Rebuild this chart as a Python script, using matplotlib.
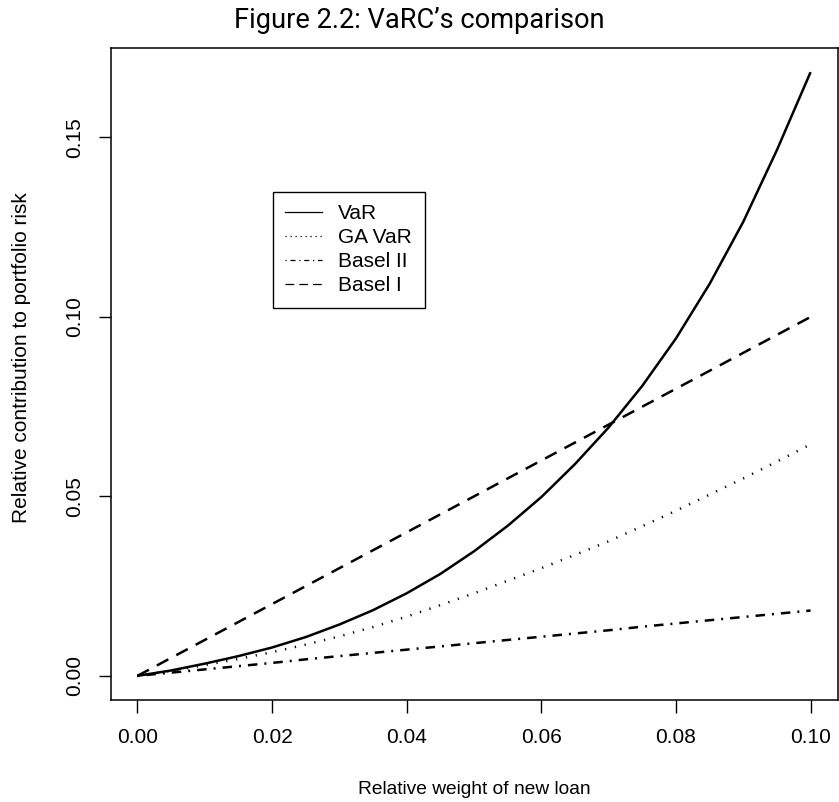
import matplotlib
matplotlib.use("Agg")
import matplotlib.pyplot as plt
from matplotlib.lines import Line2D

# ---- data ----
weights = [0.000, 0.005, 0.010, 0.015, 0.020, 0.025, 0.030, 0.035, 0.040, 0.045, 0.050,
           0.055, 0.060, 0.065, 0.070, 0.075, 0.080, 0.085, 0.090, 0.095, 0.100]
var_rc = [0.0, 0.0015, 0.0034, 0.0055, 0.0079, 0.0108, 0.0143, 0.0183, 0.0230, 0.0284, 0.0347,
          0.0418, 0.0498, 0.0590, 0.0692, 0.0808, 0.0940, 0.1092, 0.1265, 0.1465, 0.1682]
ga_var = [0.0, 0.0014, 0.0030, 0.0047, 0.0066, 0.0087, 0.0110, 0.0136, 0.0165, 0.0197, 0.0230,
          0.0265, 0.0300, 0.0337, 0.0375, 0.0417, 0.0460, 0.0505, 0.0550, 0.0597, 0.0645]
basel2 = [0.0, 0.0009, 0.0018, 0.0027, 0.0036, 0.0046, 0.0055, 0.0064, 0.0073, 0.0082, 0.0091,
          0.0100, 0.0109, 0.0118, 0.0127, 0.0137, 0.0146, 0.0155, 0.0164, 0.0173, 0.0182]
basel1 = [0.0, 0.005, 0.010, 0.015, 0.020, 0.025, 0.030, 0.035, 0.040, 0.045, 0.050,
          0.055, 0.060, 0.065, 0.070, 0.075, 0.080, 0.085, 0.090, 0.095, 0.100]
labels = ["VaR", "GA VaR", "Basel II", "Basel I"]
xticks = [0.00, 0.02, 0.04, 0.06, 0.08, 0.10]
yticks = [0.00, 0.05, 0.10, 0.15]
title = "Figure 2.2: VaRC\u2019s comparison"
xlabel = "Relative weight of new loan"
ylabel = "Relative contribution to portfolio risk"

W, H = 839, 802
fig = plt.figure(figsize=(W / 100, H / 100), dpi=100)
ax = fig.add_axes([110.5 / W, 1 - 700 / H, (837.5 - 110.5) / W, (700 - 48) / H])

FONT = ["Liberation Sans", "DejaVu Sans"]
lw = 1.8
ax.plot(weights, var_rc, color="black", lw=lw, solid_capstyle="butt")
ax.plot(weights, ga_var, color="black", lw=lw, linestyle=(0, (0.5, 3.5)))
ax.plot(weights, basel2, color="black", lw=lw, linestyle=(0, (0.8, 2.8, 3.8, 2.8)))
ax.plot(weights, basel1, color="black", lw=lw, linestyle=(0, (5.2, 3.6)))

ymax = max(var_rc)
ax.set_xlim(-0.004, 0.104)
ax.set_ylim(-0.04 * ymax, ymax * 1.04)
ax.set_xticks(xticks)
ax.set_xticklabels([f"{v:.2f}" for v in xticks], fontsize=15, family=FONT)
ax.set_yticks(yticks)
ax.set_yticklabels([f"{v:.2f}" for v in yticks], fontsize=15, family=FONT,
                   rotation=90, va="center")
ax.tick_params(direction="out", length=9, width=1, color="black")
ax.tick_params(axis="x", pad=11.5)
ax.tick_params(axis="y", pad=9.7)
for s in ax.spines.values():
    s.set_linewidth(1.1)

fig.text(474 / W, 1 - 790 / H, xlabel, ha="center", va="center", fontsize=13.8, family=FONT)
fig.text(22 / W, 1 - 358 / H, ylabel, ha="center", va="center", rotation=90,
         fontsize=15, family=FONT)
fig.text(419 / W, 1 - 20 / H, title, ha="center", va="center", fontsize=19.6,
         family=["Roboto", "DejaVu Sans"])

handles = [
    Line2D([], [], color="black", lw=0.9),
    Line2D([], [], color="black", lw=0.9, linestyle=(0, (1, 3))),
    Line2D([], [], color="black", lw=0.9, linestyle=(0, (1, 3, 4, 3))),
    Line2D([], [], color="black", lw=0.9, linestyle=(0, (7, 4))),
]
leg = ax.legend(handles, labels, loc="upper left",
                bbox_to_anchor=(272.7 / W, 1 - 191.7 / H), bbox_transform=fig.transFigure,
                borderaxespad=0, fancybox=False, frameon=True, edgecolor="black",
                prop={"family": FONT, "size": 15}, handlelength=1.78,
                handletextpad=0.77, labelspacing=0.24, borderpad=0.6)
leg.get_frame().set_linewidth(1.0)
leg.get_frame().set_alpha(1)

fig.savefig("out.png", dpi=100)
